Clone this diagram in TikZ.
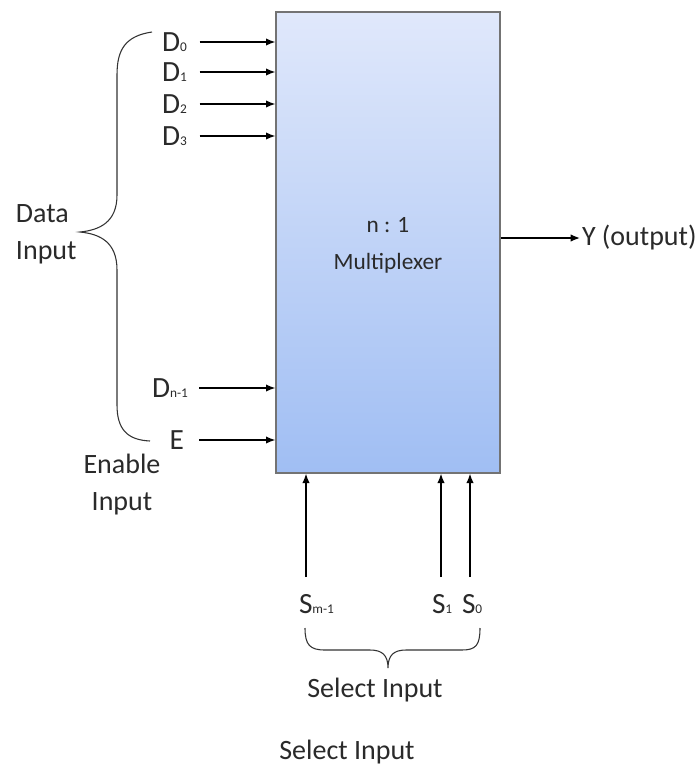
\documentclass[tikz,border=0pt]{standalone}
\usepackage{fontspec}
\setmainfont{Carlito}
\usetikzlibrary{arrows.meta}

\definecolor{muxtop}{HTML}{E0E8FB}
\definecolor{muxbot}{HTML}{A0BEF3}
\definecolor{txtgray}{HTML}{2A2A2A}
\newcommand{\ssub}[1]{{\fontsize{10}{10}\selectfont#1}}

\begin{document}
\begin{tikzpicture}[x=0.75pt, y=-0.75pt, line width=1pt,
    lbl/.style = {font=\fontsize{21}{27.75}\selectfont, text=txtgray, inner sep=1pt},
    pin/.style = {lbl, font=\fontsize{22}{24}\selectfont},
    inarr/.style = {-{Latex[length=7pt,width=5.5pt]}},
    muxbox/.style = {draw=black!55, top color=muxtop, bottom color=muxbot},
    bracel/.style = {line width=0.8pt, draw=black!80}]
    \useasboundingbox (0,0) rectangle (699,771);
    \node[muxbox, minimum width=168pt, minimum height=345.75pt] (mux) at (388,242.5) {};
    \node[lbl, font=\fontsize{17.5}{27.75}\selectfont, align=center] (name) at (388,245) {n : 1\\Multiplexer};
    \node[pin, anchor=east] (d0) at (189,42) {D\ssub{0}};
    \node[pin, anchor=east] (d1) at (189,72) {D\ssub{1}};
    \node[pin, anchor=east] (d2) at (189,104) {D\ssub{2}};
    \node[pin, anchor=east] (d3) at (189,136) {D\ssub{3}};
    \node[pin, anchor=east] (dn) at (190,388) {D\ssub{n-1}};
    \node[pin, anchor=east] (en) at (186,440) {E};
    \draw[inarr, shorten <=8pt] (d0.east) -- (d0.east -| mux.west);
    \draw[inarr, shorten <=8pt] (d1.east) -- (d1.east -| mux.west);
    \draw[inarr, shorten <=8pt] (d2.east) -- (d2.east -| mux.west);
    \draw[inarr, shorten <=8pt] (d3.east) -- (d3.east -| mux.west);
    \draw[inarr, shorten <=7pt] (dn.east) -- (dn.east -| mux.west);
    \draw[inarr, shorten <=10pt] (en.east) -- (en.east -| mux.west);
    \node[lbl, anchor=west] (yout) at (580,238) {Y (output)};
    \draw[inarr] (mux.east |- yout.west) -- (yout.west);
    \coordinate (sm) at (306,577);
    \coordinate (s1) at (441,577);
    \coordinate (s0) at (470,577);
    \draw[inarr] (sm) -- (sm |- mux.south);
    \draw[inarr] (s1) -- (s1 |- mux.south);
    \draw[inarr] (s0) -- (s0 |- mux.south);
    \node[pin, anchor=west] (smlbl) at (297,604) {S\ssub{m-1}};
    \node[pin, anchor=west] (s1lbl) at (430,604) {S\ssub{1}};
    \node[pin, anchor=west] (s0lbl) at (460,604) {S\ssub{0}};
    \draw[bracel] (152,32) .. controls (125,36) and (117,50) .. (117,75) -- (117,195)
        .. controls (117,222) and (100,230) .. (80,232)
        .. controls (100,234) and (117,242) .. (117,270) -- (117,405)
        .. controls (117,430) and (128,440) .. (150,441);
    \draw[bracel] (305,628) .. controls (305,645) and (310,650) .. (325,650) -- (370,650)
        .. controls (382,650) and (388,655) .. (388,668)
        .. controls (388,655) and (394,650) .. (406,650) -- (462,650)
        .. controls (476,650) and (480,645) .. (480,628);
    \node[lbl, anchor=west, align=left] (data) at (14,234) {Data\\Input};
    \node[lbl, align=center] (enable) at (122,485) {Enable\\Input};
    \node[lbl] (sel) at (375,690) {Select Input};
    \node[lbl] (sel2) at (347,752) {Select Input};
\end{tikzpicture}
\end{document}
